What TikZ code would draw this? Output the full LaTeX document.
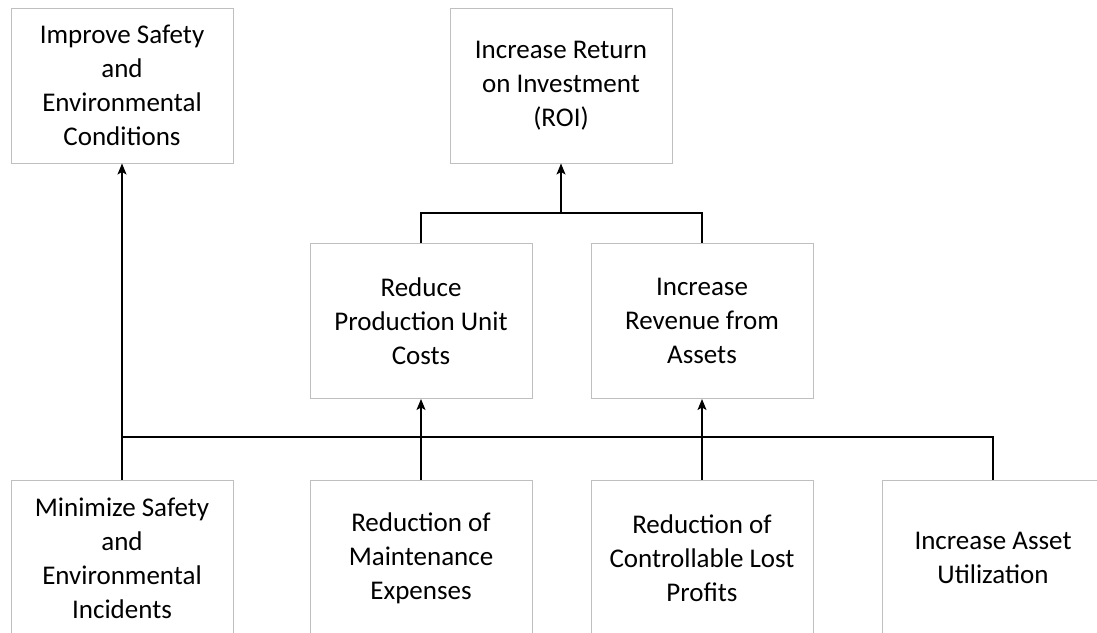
\documentclass[tikz,border=0pt]{standalone}
\usepackage{fontspec}
\setmainfont{Carlito}
\usetikzlibrary{arrows.meta}
\definecolor{boxgray}{HTML}{BFBFBF}
\tikzset{
  box/.style={draw=boxgray, line width=1pt, fill=white, minimum width=222pt, minimum height=155pt,
    inner sep=0pt, align=center, font=\fontsize{27}{34}\selectfont, text=black},
  conn/.style={draw=black, line width=1.2pt},
  arr/.style={conn, -{Stealth[length=11pt,width=9pt,inset=2.5pt]}}
}
\begin{document}
\begin{tikzpicture}[x=1pt,y=-1pt]
\useasboundingbox (0,0) rectangle (1097,632);
\clip (0,0) rectangle (1097,632);
\node[box] (safe) at (122,85.5) {Improve Safety\\and\\Environmental\\Conditions};
\node[box] (roi) at (561,85.5) {Increase Return\\on Investment\\(ROI)};
\node[box] (cost) at (421,321) {Reduce\\Production Unit\\Costs};
\node[box] (rev) at (702,321) {Increase\\Revenue from\\Assets};
\node[box] (min) at (122,558) {Minimize Safety\\and\\Environmental\\Incidents};
\node[box] (maint) at (421,558) {Reduction of\\Maintenance\\Expenses};
\node[box] (lost) at (702,558) {Reduction of\\Controllable Lost\\Profits};
\node[box] (util) at (993,558) {Increase Asset\\Utilization};
\coordinate (joint) at (561,213);
\coordinate (busL) at (122,437);
% top join
\draw[conn] (cost.north) |- (joint) -| (rev.north);
\draw[arr] (joint) -- (roi.south);
% bus
\draw[conn] (busL) -| (util.north);
\draw[arr] (min.north) -- (safe.south);
\draw[arr] (maint.north) -- (cost.south);
\draw[arr] (lost.north) -- (rev.south);
\end{tikzpicture}
\end{document}
